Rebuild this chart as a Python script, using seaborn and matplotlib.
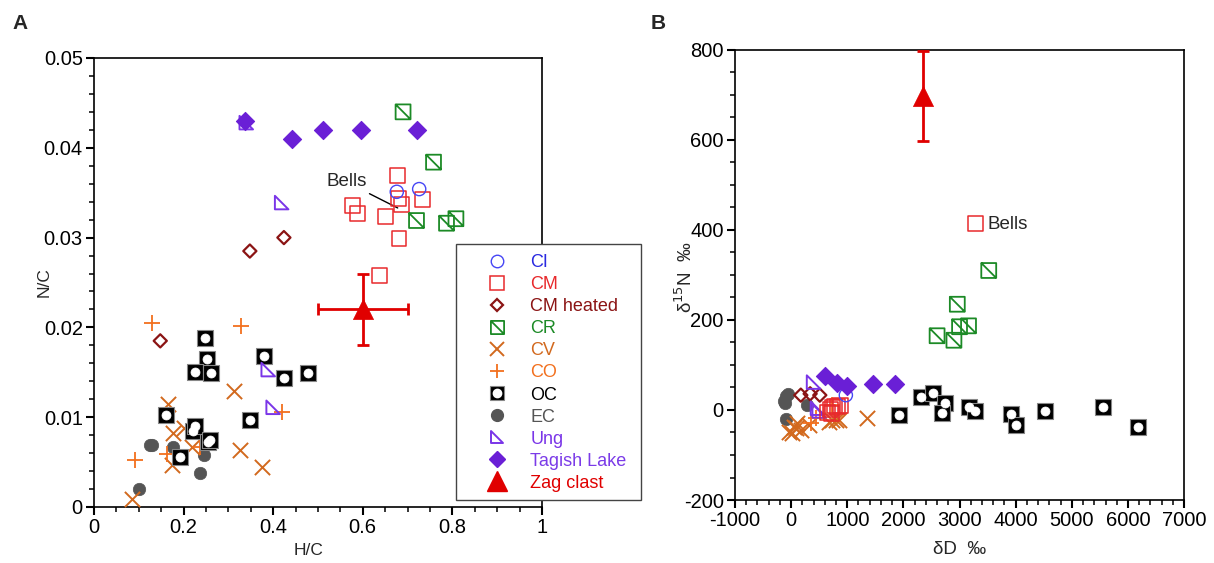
import numpy as np
import pandas as pd
import matplotlib
matplotlib.use("Agg")
import matplotlib.pyplot as plt
from matplotlib.path import Path
from matplotlib.lines import Line2D
from matplotlib.patches import Rectangle
from matplotlib.ticker import MultipleLocator
import seaborn as sns

# ---- Panel A data: H/C vs N/C ----
ci_hc = [0.676, 0.726]
ci_nc = [0.0351, 0.0354]
cm_hc = [0.678, 0.577, 0.589, 0.650, 0.687, 0.680, 0.733, 0.681, 0.638]
cm_nc = [0.0369, 0.0336, 0.0327, 0.0323, 0.0337, 0.0344, 0.0342, 0.0299, 0.0258]
cmh_hc = [0.424, 0.348, 0.148]
cmh_nc = [0.0300, 0.0285, 0.0185]
cr_hc = [0.690, 0.758, 0.720, 0.787, 0.808]
cr_nc = [0.0440, 0.0384, 0.0319, 0.0316, 0.0321]
cv_hc = [0.313, 0.165, 0.177, 0.201, 0.218, 0.174, 0.326, 0.376, 0.085]
cv_nc = [0.0129, 0.0115, 0.0082, 0.0088, 0.0067, 0.0047, 0.0064, 0.0045, 0.0009]
co_hc = [0.130, 0.328, 0.419, 0.091, 0.162, 0.236]
co_nc = [0.0205, 0.0201, 0.0106, 0.0052, 0.0059, 0.0067]
oc_hc = [0.247, 0.253, 0.226, 0.262, 0.379, 0.424, 0.477, 0.349, 0.160, 0.220,
         0.226, 0.255, 0.260, 0.192]
oc_nc = [0.0188, 0.0165, 0.0150, 0.0149, 0.0168, 0.0144, 0.0149, 0.0097, 0.0102,
         0.0085, 0.0090, 0.0072, 0.0075, 0.0056]
ec_hc = [0.124, 0.130, 0.177, 0.245, 0.236, 0.100]
ec_nc = [0.0069, 0.0069, 0.0067, 0.0058, 0.0038, 0.0020]
ung_hc = [0.340, 0.419, 0.389, 0.400]
ung_nc = [0.0428, 0.0339, 0.0153, 0.0111]
tl_hc = [0.338, 0.441, 0.512, 0.595, 0.722]
tl_nc = [0.0430, 0.0410, 0.0420, 0.0420, 0.0420]
zag_hc, zag_nc = 0.600, 0.0220
zag_hc_err, zag_nc_err = 0.10, 0.0040
bells_a = (0.678, 0.0333)

# ---- Panel B data: dD vs d15N ----
ci_dd = [975]
ci_dn = [33]
cm_dd = [650, 700, 740, 780, 820, 880, 720]
cm_dn = [-5, 2, 6, 9, 8, 10, -8]
cmh_dd = [173, 339, 511]
cmh_dn = [33, 36, 33]
cr_dd = [3520, 2960, 2600, 2900, 3000, 3160]
cr_dn = [310, 235, 165, 155, 185, 187]
cv_dd = [-36, 53, 173, 113, 796, 677, 1360, 83, 24, 321, 737, 855]
cv_dn = [-48, -37, -44, -30, -22, -26, -18, -41, -52, -33, -22, -22]
co_dd = [350, 440, 737]
co_dn = [-30, -18, 11]
oc_dd = [1913, 2312, 2519, 2745, 2680, 3173, 3280, 3916, 4005, 4528, 5549, 6173]
oc_dn = [-11, 28, 38, 15, -7, 7, -2, -9, -33, -2, 7, -38]
ec_dd = [-120, -90, -60, -100, -95, 290]
ec_dn = [20, 30, 35, 15, -20, 10]
ung_dd = [400, 470, 500]
ung_dn = [62, 4, -2]
tl_dd = [606, 815, 1004, 1467, 1848]
tl_dn = [76, 59, 54, 57, 57]
zag_dd, zag_dn = 2350, 697
zag_dn_err = 100
bells_b = (3280, 415)

labels = ["CI", "CM", "CM heated", "CR", "CV", "CO", "OC", "EC", "Ung",
          "Tagish Lake", "Zag clast"]

C_CI = "#4646f5"
C_CM = "#e8292c"
C_CMH = "#8b1414"
C_CR = "#1c8a26"
C_CV = "#d2691e"
C_CO = "#f2701e"
C_EC = "#555555"
C_UNG = "#7a35e8"
C_TL = "#6a1fd6"
C_ZAG = "#e00000"
text_colors = ["#2a2ae0", C_CM, C_CMH, C_CR, C_CV, C_CO, "black", C_EC,
               C_UNG, "#7b3be8", C_ZAG]

# custom markers
cr_marker = Path([(-1, -1), (1, -1), (1, 1), (-1, 1), (-1, -1), (-1, 1), (1, -1)],
                 [Path.MOVETO, Path.LINETO, Path.LINETO, Path.LINETO, Path.CLOSEPOLY,
                  Path.MOVETO, Path.LINETO])
ung_marker = Path([(-1, 1), (-1, -1), (1, -1), (-1, 1)],
                  [Path.MOVETO, Path.LINETO, Path.LINETO, Path.CLOSEPOLY])

sns.set_style("ticks")
plt.rcParams["font.family"] = ["Liberation Sans", "DejaVu Sans"]
plt.rcParams["axes.linewidth"] = 1.2
plt.rcParams["axes.unicode_minus"] = False

fig = plt.figure(figsize=(12.14, 5.63), dpi=100)
axA = fig.add_axes([0.0774, 0.0995, 0.369, 0.7975])
axB = fig.add_axes([0.6054, 0.1119, 0.370, 0.7993])


def pts(ax, x, y, marker, s, fc, ec, lw=1.2, z=3):
    sns.scatterplot(x=np.atleast_1d(x), y=np.atleast_1d(y), ax=ax, marker=marker,
                    s=s, facecolor=fc, edgecolor=ec, linewidth=lw, zorder=z,
                    legend=False)


def lines_pts(ax, x, y, marker, s, color, lw=1.3, z=3):
    sns.scatterplot(x=np.atleast_1d(x), y=np.atleast_1d(y), ax=ax, marker=marker,
                    s=s, color=color, linewidth=lw, zorder=z, legend=False)


def draw_panel(ax, d):
    pts(ax, d["ec"][0], d["ec"][1], "o", 80, C_EC, C_EC, 0.5, 2)
    lines_pts(ax, d["cv"][0], d["cv"][1], "x", 120, C_CV, 1.4, 3)
    lines_pts(ax, d["co"][0], d["co"][1], "+", 120, C_CO, 1.3, 3)
    pts(ax, d["oc"][0], d["oc"][1], "s", 125, "black", "#888888", 0.8, 4)
    pts(ax, d["oc"][0], d["oc"][1], "o", 42, "white", "white", 0.5, 5)
    pts(ax, d["cmh"][0], d["cmh"][1], "D", 45, "none", C_CMH, 1.6, 4)
    pts(ax, d["ung"][0], d["ung"][1], ung_marker, 95, "none", C_UNG, 1.4, 4)
    pts(ax, d["cm"][0], d["cm"][1], "s", 115, "none", C_CM, 1.1, 5)
    pts(ax, d["ci"][0], d["ci"][1], "o", 90, "none", C_CI, 1.0, 5)
    pts(ax, d["cr"][0], d["cr"][1], cr_marker, 115, "none", C_CR, 1.3, 5)
    pts(ax, d["tl"][0], d["tl"][1], "D", 85, C_TL, C_TL, 0.8, 6)


draw_panel(axA, {"ci": (ci_hc, ci_nc), "cm": (cm_hc, cm_nc), "cmh": (cmh_hc, cmh_nc),
                 "cr": (cr_hc, cr_nc), "cv": (cv_hc, cv_nc), "co": (co_hc, co_nc),
                 "oc": (oc_hc, oc_nc), "ec": (ec_hc, ec_nc), "ung": (ung_hc, ung_nc),
                 "tl": (tl_hc, tl_nc)})
draw_panel(axB, {"ci": (ci_dd, ci_dn), "cm": (cm_dd, cm_dn), "cmh": (cmh_dd, cmh_dn),
                 "cr": (cr_dd, cr_dn), "cv": (cv_dd, cv_dn), "co": (co_dd, co_dn),
                 "oc": (oc_dd, oc_dn), "ec": (ec_dd, ec_dn), "ung": (ung_dd, ung_dn),
                 "tl": (tl_dd, tl_dn)})

# Zag clast with error bars
axA.errorbar([zag_hc], [zag_nc], xerr=[zag_hc_err], yerr=[zag_nc_err], fmt="none",
             ecolor=C_ZAG, elinewidth=2, capsize=4, capthick=2, zorder=6)
pts(axA, zag_hc, zag_nc, "^", 210, C_ZAG, C_ZAG, 0.5, 7)
axB.errorbar([zag_dd], [zag_dn], yerr=[zag_dn_err], fmt="none",
             ecolor=C_ZAG, elinewidth=2, capsize=4, capthick=2, zorder=6)
pts(axB, zag_dd, zag_dn, "^", 210, C_ZAG, C_ZAG, 0.5, 7)

# Bells annotations
axA.annotate("Bells", xy=bells_a, xytext=(0.518, 0.0362), fontsize=13.5,
             ha="left", va="center",
             arrowprops=dict(arrowstyle="-", color="black", lw=1, shrinkA=0, shrinkB=0))
pts(axB, bells_b[0], bells_b[1], "s", 115, "none", C_CM, 1.1, 5)
axB.text(3490, 413, "Bells", fontsize=13.5, ha="left", va="center")

# axes formatting
axA.set_xlim(0, 1)
axA.set_ylim(0, 0.05)
axA.xaxis.set_minor_locator(MultipleLocator(0.05))
axA.yaxis.set_minor_locator(MultipleLocator(0.002))
axA.set_xticks([0, 0.2, 0.4, 0.6, 0.8, 1.0])
axA.set_xticklabels(["0", "0.2", "0.4", "0.6", "0.8", "1"])
axA.set_yticks([0, 0.01, 0.02, 0.03, 0.04, 0.05])
axA.set_yticklabels(["0", "0.01", "0.02", "0.03", "0.04", "0.05"])
axA.set_xlabel("H/C", fontsize=12.5)
axA.set_ylabel("N/C", fontsize=12.5)
axA.xaxis.set_label_coords(0.48, -0.080)
axA.yaxis.set_label_coords(-0.094, 0.5)

axB.set_xlim(-1000, 7000)
axB.set_ylim(-200, 800)
axB.xaxis.set_major_locator(MultipleLocator(1000))
axB.xaxis.set_minor_locator(MultipleLocator(200))
axB.yaxis.set_major_locator(MultipleLocator(200))
axB.yaxis.set_minor_locator(MultipleLocator(50))
axB.set_xlabel("δD  \u2030", fontsize=13.5)
axB.set_ylabel("δ$^{15}$N  \u2030", fontsize=13.5)
axB.xaxis.set_label_coords(0.499, -0.091)
axB.yaxis.set_label_coords(-0.087, 0.495)

for ax in (axA, axB):
    for sp in ax.spines.values():
        sp.set_visible(True)
        sp.set_color("black")
        sp.set_linewidth(1.2)
    ax.tick_params(which="major", direction="out", length=6, width=1.5,
                   labelsize=14.5, colors="black", pad=2)
    ax.tick_params(which="minor", direction="out", length=3.5, width=1.3)

fig.text(0.010, 0.948, "A", fontsize=15, fontweight="bold")
fig.text(0.536, 0.948, "B", fontsize=15, fontweight="bold")

# legend
handles = [
    Line2D([], [], ls="none", marker="o", ms=9, mfc="none", mec=C_CI, mew=1.0),
    Line2D([], [], ls="none", marker="s", ms=9.5, mfc="none", mec=C_CM, mew=1.1),
    Line2D([], [], ls="none", marker="D", ms=6.5, mfc="none", mec=C_CMH, mew=1.6),
    Line2D([], [], ls="none", marker=cr_marker, ms=9.5, mfc="none", mec=C_CR, mew=1.3),
    Line2D([], [], ls="none", marker="x", ms=10, color=C_CV, mew=1.4),
    Line2D([], [], ls="none", marker="+", ms=10, color=C_CO, mew=1.3),
    (Line2D([], [], ls="none", marker="s", ms=10, mfc="black", mec="#888888", mew=0.8),
     Line2D([], [], ls="none", marker="o", ms=6, mfc="white", mec="white")),
    Line2D([], [], ls="none", marker="o", ms=8.5, mfc=C_EC, mec=C_EC),
    Line2D([], [], ls="none", marker=ung_marker, ms=9, mfc="none", mec=C_UNG, mew=1.4),
    Line2D([], [], ls="none", marker="D", ms=8, mfc=C_TL, mec=C_TL),
    Line2D([], [], ls="none", marker="^", ms=14, mfc=C_ZAG, mec=C_ZAG),
]
box = Rectangle((0.808, 0.0156), 0.413, 0.570, transform=axA.transAxes,
                facecolor="white", edgecolor="#444444", lw=1.0, clip_on=False,
                zorder=8)
axA.add_patch(box)
leg = axA.legend(handles, labels, loc="upper left",
                 bbox_to_anchor=(0.860, 0.563), fontsize=13, frameon=False,
                 labelspacing=0.28, handlelength=2.0, handletextpad=0.83,
                 borderpad=0, borderaxespad=0)
leg.set_zorder(9)
for t, c in zip(leg.get_texts(), text_colors):
    t.set_color(c)

fig.savefig("out.png", dpi=100)
